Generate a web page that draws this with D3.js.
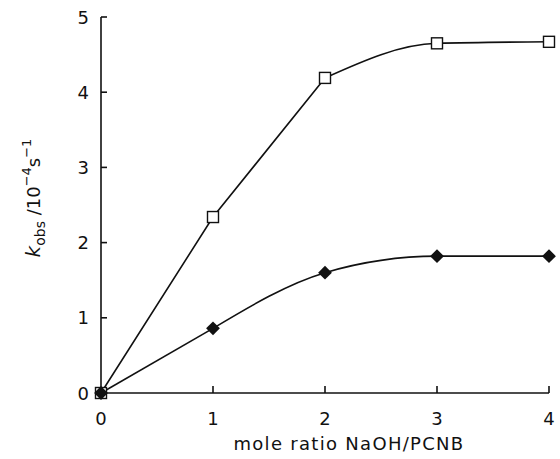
<!DOCTYPE html>
<html>
<head>
<meta charset="utf-8">
<script src="https://cdn.jsdelivr.net/npm/d3@7"></script>
<style>
  body { margin: 0; background: #fff; }
  svg { display: block; font-family: "DejaVu Sans", sans-serif; }
  .tick-label { font-size: 18px; fill: #111; }
  .axis-title { font-size: 18px; fill: #111; }
</style>
</head>
<body>
<svg id="chart" width="560" height="459"></svg>
<script>
// mole ratio NaOH/PCNB
var ratio = [0, 1, 2, 3, 4];
// k_obs / 1e-4 s^-1
var openSquares = [0, 2.34, 4.19, 4.65, 4.67];
var filledDiamonds = [0, 0.86, 1.6, 1.82, 1.82];
// the fitted line is straight up to this point, a smooth curve after it
var squareKnee = 2, diamondKnee = 1;
var xTicks = [0, 1, 2, 3, 4];
var yTicks = [0, 1, 2, 3, 4, 5];

var svg = d3.select("#chart");
var x = d3.scaleLinear().domain([0, 4]).range([101, 549]);
var y = d3.scaleLinear().domain([0, 5]).range([393, 17]);

// axes: plain lines with inward ticks
var ax = svg.append("g").attr("stroke", "#111").attr("stroke-width", 1.6).attr("fill", "none");
ax.append("line").attr("x1", x(0)).attr("x2", x(4)).attr("y1", y(0)).attr("y2", y(0));
ax.append("line").attr("x1", x(0)).attr("x2", x(0)).attr("y1", y(0)).attr("y2", y(5));
xTicks.forEach(function (t) {
  if (t === 0) return;
  ax.append("line").attr("x1", x(t)).attr("x2", x(t)).attr("y1", y(0)).attr("y2", y(0) - 7);
});
yTicks.forEach(function (t) {
  if (t === 0) return;
  ax.append("line").attr("x1", x(0)).attr("x2", x(0) + 6).attr("y1", y(t)).attr("y2", y(t));
});

svg.append("g").selectAll("text").data(xTicks).join("text")
  .attr("class", "tick-label").attr("x", function (d) { return x(d); }).attr("y", 425)
  .attr("text-anchor", "middle").text(function (d) { return d; });
svg.append("g").selectAll("text").data(yTicks).join("text")
  .attr("class", "tick-label").attr("x", 89).attr("y", function (d) { return y(d) + 6.5; })
  .attr("text-anchor", "end").text(function (d) { return d; });

svg.append("text").attr("class", "axis-title").attr("x", 349).attr("y", 450)
  .attr("letter-spacing", 1.3).attr("text-anchor", "middle").text("mole ratio NaOH/PCNB");

var yt = svg.append("text").attr("class", "axis-title")
  .attr("transform", "translate(40,198) rotate(-90)").attr("text-anchor", "middle");
yt.append("tspan").attr("font-style", "italic").attr("font-size", 20).text("k");
yt.append("tspan").attr("font-size", 14).attr("dy", 5).text("obs");
yt.append("tspan").attr("dy", -5).text(" /10");
yt.append("tspan").attr("font-size", 13).attr("dy", -9).text("−4");
yt.append("tspan").attr("dy", 9).text("s");
yt.append("tspan").attr("font-size", 13).attr("dy", -9).text("−1");

var px = function (d) { return x(d[0]); }, py = function (d) { return y(d[1]); };
var straight = d3.line().x(px).y(py);
var smooth = d3.line().x(px).y(py).curve(d3.curveMonotoneX);

function series(vals) { return ratio.map(function (r, i) { return [r, vals[i]]; }); }

function drawFit(pts, knee) {
  var g = svg.append("g").attr("fill", "none").attr("stroke", "#111").attr("stroke-width", 1.6);
  g.append("path").attr("d", straight(pts.slice(0, knee + 1)));
  g.append("path").attr("d", smooth(pts.slice(knee)));
}
drawFit(series(openSquares), squareKnee);
drawFit(series(filledDiamonds), diamondKnee);

var s = 11;
svg.append("g").selectAll("rect").data(series(openSquares)).join("rect")
  .attr("x", function (d) { return x(d[0]) - s / 2; }).attr("y", function (d) { return y(d[1]) - s / 2; })
  .attr("width", s).attr("height", s).attr("fill", "#fff").attr("stroke", "#111").attr("stroke-width", 1.4);

var diamond = d3.symbol().type(d3.symbolSquare).size(95);
svg.append("g").selectAll("path").data(series(filledDiamonds)).join("path")
  .attr("d", diamond)
  .attr("transform", function (d) { return "translate(" + x(d[0]) + "," + y(d[1]) + ") rotate(45)"; })
  .attr("fill", "#111");
</script>
</body>
</html>
